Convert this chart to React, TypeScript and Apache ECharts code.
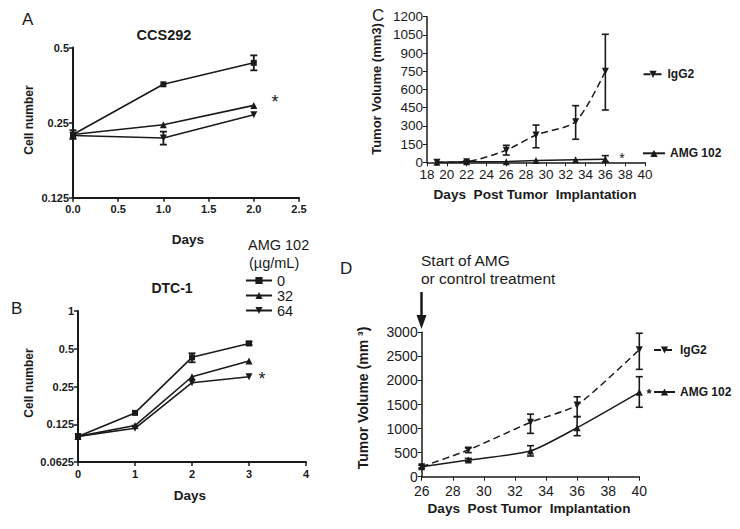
import React, { useEffect, useRef } from 'react';
import * as echarts from 'echarts';

const FONT = '"Liberation Sans", Arial, sans-serif';
const INK = '#1a1a1a';

// ---------- Panel A: CCS292 (cell number, log2 axis) ----------
const aDays = [0, 1, 2];
const aDose0 = [0.224, 0.356, 0.434];
const aDose32 = [0.224, 0.245, 0.293];
const aDose64 = [0.222, 0.217, 0.269];
const aErrors = [
  [0, 0.215, 0.233],
  [2, 0.405, 0.465],
  [1, 0.204, 0.23],
];

// ---------- Panel B: DTC-1 ----------
const bDays = [0, 1, 2, 3];
const bDose0 = [0.1, 0.154, 0.427, 0.551];
const bDose32 = [0.1, 0.122, 0.299, 0.4];
const bDose64 = [0.1, 0.116, 0.268, 0.299];
const bErrors = [
  [2, 0.39, 0.46],
  [3, 0.535, 0.57],
];
const doseNames = ['0', '32', '64'];

// ---------- Panel C: tumor volume (days 19-36) ----------
const cDays = [19, 22, 26, 29, 33, 36];
const cIgG2 = [0, 5, 100, 225, 335, 750];
const cAMG = [0, 5, 5, 15, 20, 25];
const cIgG2Errors = [
  [22, 0, 12],
  [26, 60, 140],
  [29, 120, 307],
  [33, 190, 467],
  [36, 431, 1055],
];
const cAMGErrors = [[36, 5, 55]];

// ---------- Panel D: tumor volume (days 26-40) ----------
const dDays = [26, 29, 33, 36, 40];
const dIgG2 = [208, 555, 1130, 1490, 2638];
const dAMG = [208, 346, 533, 1018, 1753];
const dIgG2Errors = [
  [26, 180, 240],
  [29, 500, 600],
  [33, 900, 1300],
  [36, 1250, 1660],
  [40, 2230, 2980],
];
const dAMGErrors = [
  [29, 320, 380],
  [33, 430, 644],
  [36, 852, 1246],
  [40, 1443, 2078],
];
const groupNames = ['IgG2', 'AMG 102'];

function errSeries(name: string, data: number[][], idx: number, cap: number, width: number) {
  return {
    type: 'custom',
    name,
    xAxisIndex: idx,
    yAxisIndex: idx,
    data,
    encode: { x: 0, y: [1, 2] },
    silent: true,
    z: 3,
    renderItem: (_p: any, api: any) => {
      const x = api.value(0);
      const lo = api.value(1);
      const hi = api.value(2);
      const a = api.coord([x, lo]);
      const b = api.coord([x, hi]);
      const st = { stroke: INK, lineWidth: width };
      return {
        type: 'group',
        children: [
          { type: 'line', shape: { x1: a[0], y1: a[1], x2: b[0], y2: b[1] }, style: st },
          { type: 'line', shape: { x1: a[0] - cap, y1: a[1], x2: a[0] + cap, y2: a[1] }, style: st },
          { type: 'line', shape: { x1: b[0] - cap, y1: b[1], x2: b[0] + cap, y2: b[1] }, style: st },
        ],
      };
    },
  };
}

function lineSeries(
  name: string,
  days: number[],
  vals: number[],
  idx: number,
  symbol: string,
  rotate: number,
  dashed: boolean,
  smooth: number,
  size: number,
  width: number
) {
  return {
    type: 'line',
    name,
    xAxisIndex: idx,
    yAxisIndex: idx,
    data: days.map((d, i) => [d, vals[i]]),
    symbol,
    symbolSize: size,
    symbolRotate: rotate,
    showSymbol: true,
    smooth,
    lineStyle: { color: INK, width, type: dashed ? [7, 4] : 'solid' },
    itemStyle: { color: INK },
    z: 4,
  };
}

const boldTick = { fontFamily: FONT, fontWeight: 'bold', fontSize: 11, color: INK };
const plainTick = (size: number) => ({
  fontFamily: FONT,
  fontSize: size,
  color: INK,
  formatter: (v: number) => String(v),
});

function axisBase(width: number, labelStyle: any, margin: number) {
  return {
    axisLine: { show: true, onZero: false, lineStyle: { color: INK, width } },
    axisTick: { show: true, inside: false, length: 4, lineStyle: { color: INK, width: Math.max(1, width - 0.5) } },
    splitLine: { show: false },
    axisLabel: { ...labelStyle, margin },
  };
}

const logFmt = (v: number) => String(Number(v.toPrecision(4)));

function txt(x: number, y: number, text: string, size: number, opts: any = {}) {
  return {
    type: 'text',
    x,
    y,
    rotation: opts.rotation || 0,
    style: {
      text,
      fontFamily: FONT,
      fontSize: size,
      fontWeight: opts.bold ? 'bold' : 'normal',
      fill: INK,
      align: opts.align || 'center',
      verticalAlign: 'middle',
    },
  };
}

export default function App() {
  const ref = useRef<HTMLDivElement>(null);
  useEffect(() => {
    if (!ref.current) return;
    const chart = echarts.init(ref.current, undefined, { renderer: 'svg' });
    const option: any = {
      animation: false,
      backgroundColor: '#ffffff',
      grid: [
        { left: 73, top: 47.5, width: 226, height: 150.2, outerBoundsMode: 'none' },
        { left: 78, top: 311, width: 228, height: 151, outerBoundsMode: 'none' },
        { left: 427, top: 16.7, width: 218, height: 145.6, outerBoundsMode: 'none' },
        { left: 421.7, top: 332.3, width: 217.6, height: 144.4, outerBoundsMode: 'none' },
      ],
      xAxis: [
        {
          gridIndex: 0, type: 'value', min: 0, max: 2.5, interval: 0.5,
          ...axisBase(2, { ...boldTick, formatter: (v: number) => v.toFixed(1) }, 6),
        },
        {
          gridIndex: 1, type: 'value', min: 0, max: 4, interval: 1,
          ...axisBase(2, boldTick, 6),
        },
        {
          gridIndex: 2, type: 'value', min: 18, max: 40, interval: 2,
          ...axisBase(1.5, plainTick(13.5), 5),
        },
        {
          gridIndex: 3, type: 'value', min: 26, max: 40, interval: 2,
          ...axisBase(1.5, plainTick(14), 7),
        },
      ],
      yAxis: [
        {
          gridIndex: 0, type: 'log', logBase: 2, min: 0.125, max: 0.5,
          ...axisBase(2, { ...boldTick, formatter: logFmt }, 4),
        },
        {
          gridIndex: 1, type: 'log', logBase: 2, min: 0.0625, max: 1,
          ...axisBase(2, { ...boldTick, formatter: logFmt }, 4),
        },
        {
          gridIndex: 2, type: 'value', min: 0, max: 1200, interval: 150,
          ...axisBase(1.5, plainTick(13.5), 4),
        },
        {
          gridIndex: 3, type: 'value', min: 0, max: 3000, interval: 500,
          ...axisBase(1.5, plainTick(14), 4),
        },
      ],
      legend: [
        {
          data: doseNames, orient: 'vertical', left: 245, top: 273, padding: 0,
          itemWidth: 26, itemHeight: 9, itemGap: 0, selectedMode: false,
          textStyle: { fontFamily: FONT, fontSize: 14.5, color: INK, lineHeight: 15 },
        },
        {
          data: [groupNames[0]], left: 642.5, top: 68.3, padding: 0,
          itemWidth: 19, itemHeight: 9, selectedMode: false,
          textStyle: { fontFamily: FONT, fontSize: 12, fontWeight: 'bold', color: INK },
        },
        {
          data: [groupNames[1]], left: 642, top: 147.3, padding: 0,
          itemWidth: 22, itemHeight: 9, selectedMode: false,
          textStyle: { fontFamily: FONT, fontSize: 12, fontWeight: 'bold', color: INK },
        },
        {
          data: [groupNames[0]], left: 653, top: 344, padding: 0,
          itemWidth: 21, itemHeight: 9, selectedMode: false,
          textStyle: { fontFamily: FONT, fontSize: 12, fontWeight: 'bold', color: INK },
        },
        {
          data: [groupNames[1]], left: 653, top: 386, padding: 0,
          itemWidth: 21, itemHeight: 9, selectedMode: false,
          textStyle: { fontFamily: FONT, fontSize: 12, fontWeight: 'bold', color: INK },
        },
      ],
      series: [
        // Panel A
        lineSeries(doseNames[0], aDays, aDose0, 0, 'rect', 0, false, 0, 6, 1.6),
        lineSeries(doseNames[1], aDays, aDose32, 0, 'triangle', 0, false, 0, 7, 1.6),
        lineSeries(doseNames[2], aDays, aDose64, 0, 'triangle', 180, false, 0, 7, 1.6),
        errSeries('A err', aErrors, 0, 3.5, 1.8),
        // Panel B
        lineSeries(doseNames[0], bDays, bDose0, 1, 'rect', 0, false, 0, 6, 1.6),
        lineSeries(doseNames[1], bDays, bDose32, 1, 'triangle', 0, false, 0, 7, 1.6),
        lineSeries(doseNames[2], bDays, bDose64, 1, 'triangle', 180, false, 0, 7, 1.6),
        errSeries('B err', bErrors, 1, 3.5, 1.8),
        // Panel C
        lineSeries(groupNames[0], cDays, cIgG2, 2, 'triangle', 180, true, 0.25, 7, 1.5),
        lineSeries(groupNames[1], cDays, cAMG, 2, 'triangle', 0, false, 0, 7, 1.5),
        errSeries('C IgG2 err', cIgG2Errors, 2, 3.5, 1.6),
        errSeries('C AMG err', cAMGErrors, 2, 3.5, 1.6),
        // Panel D
        lineSeries(groupNames[0], dDays, dIgG2, 3, 'triangle', 180, true, 0.2, 7, 1.5),
        lineSeries(groupNames[1], dDays, dAMG, 3, 'triangle', 0, false, 0.2, 7, 1.5),
        errSeries('D IgG2 err', dIgG2Errors, 3, 3.5, 1.6),
        errSeries('D AMG err', dAMGErrors, 3, 3.5, 1.6),
      ],
      graphic: [
        // Panel A
        txt(22, 19, 'A', 17, { align: 'left' }),
        txt(164, 35, 'CCS292', 14.5, { bold: true }),
        txt(29, 120, 'Cell number', 12, { bold: true, rotation: Math.PI / 2 }),
        txt(188, 239, 'Days', 13.5, { bold: true }),
        txt(275, 102, '*', 18),
        // Panel B
        txt(11, 308, 'B', 17, { align: 'left' }),
        txt(172, 288, 'DTC-1', 14, { bold: true }),
        txt(29, 383, 'Cell number', 12, { bold: true, rotation: Math.PI / 2 }),
        txt(190, 495, 'Days', 13.5, { bold: true }),
        txt(262, 379, '*', 18),
        txt(248, 245, 'AMG 102', 14.5, { align: 'left' }),
        txt(249, 263, '(µg/mL)', 14.5, { align: 'left' }),
        // Panel C
        txt(372, 15, 'C', 17, { align: 'left' }),
        txt(376, 89, 'Tumor Volume (mm3)', 13, { bold: true, rotation: Math.PI / 2 }),
        txt(535, 194, 'Days  Post Tumor  Implantation', 13.6, { bold: true }),
        txt(622, 158, '*', 14),
        // Panel D
        txt(340, 268, 'D', 17, { align: 'left' }),
        txt(363, 398, 'Tumor Volume (mm ³)', 14, { bold: true, rotation: Math.PI / 2 }),
        txt(529, 508, 'Days  Post Tumor  Implantation', 13.6, { bold: true }),
        txt(421, 260, 'Start of AMG', 15.5, { align: 'left' }),
        txt(421, 278, 'or control treatment', 15.5, { align: 'left' }),
        txt(649, 393, '*', 13, { bold: true }),
        {
          type: 'line',
          shape: { x1: 421.5, y1: 292, x2: 421.5, y2: 318 },
          style: { stroke: INK, lineWidth: 2.5 },
        },
        {
          type: 'polygon',
          shape: { points: [[416.5, 315], [426.5, 315], [421.5, 329]] },
          style: { fill: INK },
        },
      ],
    };
    chart.setOption(option);
    return () => chart.dispose();
  }, []);
  return (
    <div
      ref={ref}
      style={{ position: 'absolute', left: 0, top: 0, width: 740, height: 529, background: '#fff' }}
    />
  );
}
